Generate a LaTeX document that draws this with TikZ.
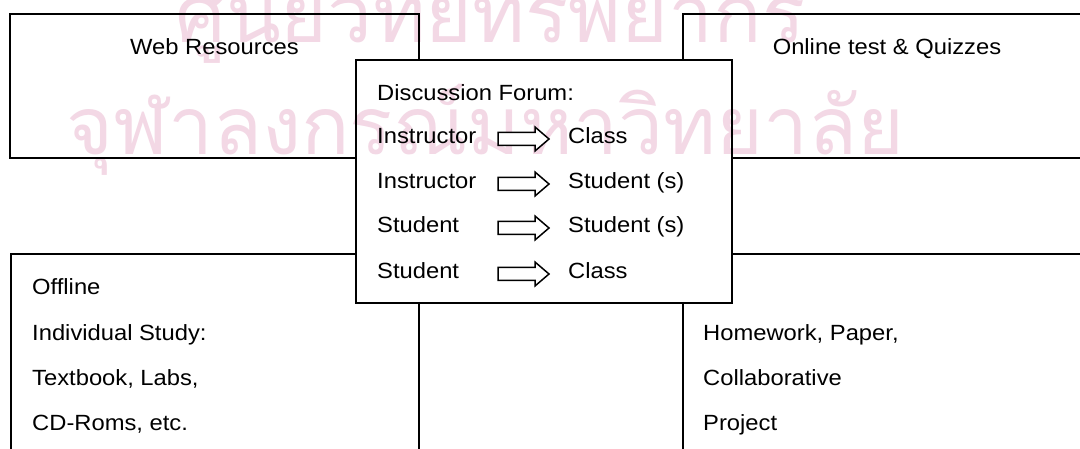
\documentclass[tikz,border=0pt]{standalone}
\usepackage{fontspec}
\usepackage{graphicx}
\setmainfont[FakeStretch=1.08]{Liberation Sans}
\newfontfamily\thaifont[Script=Thai]{Loma}
\definecolor{wmark}{RGB}{243,216,229}
\tikzset{
  box/.style={line width=1.6pt},
  lbl/.style={anchor=base west, inner sep=0pt, font=\fontsize{22}{26}\selectfont},
  wm/.style={anchor=base west, inner sep=0pt, text=wmark},
  blockarrow/.pic={\draw[line width=1.5pt, line join=miter, fill=white]
     (0,-6.5) -- (37,-6.5) -- (37,-12) -- (51,0) -- (37,12) -- (37,6.5) -- (0,6.5) -- cycle;}
}
\begin{document}
\begin{tikzpicture}[x=1pt,y=-1pt]
\useasboundingbox (0,0) rectangle (1080,449);
\clip (0,0) rectangle (1080,449);
\fill[white] (0,0) rectangle (1080,449);
% watermark
\node[wm] (wm1) at (175,43) {\resizebox{630pt}{!}{\thaifont\fontsize{50}{60}\selectfont ศูนย์วิทยทรัพยากร}};
\node[wm] (wm2) at (66,155) {\resizebox{838pt}{!}{\thaifont\fontsize{50}{60}\selectfont จุฬาลงกรณ์มหาวิทยาลัย}};
% outer boxes (parts hidden by the forum box left out)
\draw[box] (355,158) -- (10,158) -- (10,14) -- (419,14) -- (419,59);
\draw[box] (683,59) -- (683,14) -- (1095,14);
\draw[box] (731,158) -- (1095,158);
\draw[box] (355,254) -- (11,254) -- (11,460);
\draw[box] (419,302) -- (419,460);
\draw[box] (731,254) -- (1095,254);
\draw[box] (683,302) -- (683,460);
% forum box
\node[draw, box, anchor=north west, inner sep=0pt, minimum width=376pt, minimum height=243pt] (forum) at (355,59) {};
% texts
\node[lbl, anchor=base] (web) at (214.5,55) {Web Resources};
\node[lbl, anchor=base] (quiz) at (887,55) {Online test \& Quizzes};
\node[lbl] (df) at (377,101) {Discussion Forum:};
\node[lbl] (s1) at (377,144) {Instructor};
\node[lbl] (t1) at (568,144) {Class};
\node[lbl] (s2) at (377,189) {Instructor};
\node[lbl] (t2) at (568,189) {Student (s)};
\node[lbl] (s3) at (377,233) {Student};
\node[lbl] (t3) at (568,233) {Student (s)};
\node[lbl] (s4) at (377,279) {Student};
\node[lbl] (t4) at (568,279) {Class};
\pic at (498,139) {blockarrow};
\pic at (498,184) {blockarrow};
\pic at (498,228) {blockarrow};
\pic at (498,274) {blockarrow};
\node[lbl] (o1) at (32,295) {Offline};
\node[lbl] (o2) at (32,341) {Individual Study:};
\node[lbl] (o3) at (32,385) {Textbook, Labs,};
\node[lbl] (o4) at (32,430) {CD-Roms, etc.};
\node[lbl] (h1) at (703,341) {Homework, Paper,};
\node[lbl] (h2) at (703,385) {Collaborative};
\node[lbl] (h3) at (703,430) {Project};
\end{tikzpicture}
\end{document}
